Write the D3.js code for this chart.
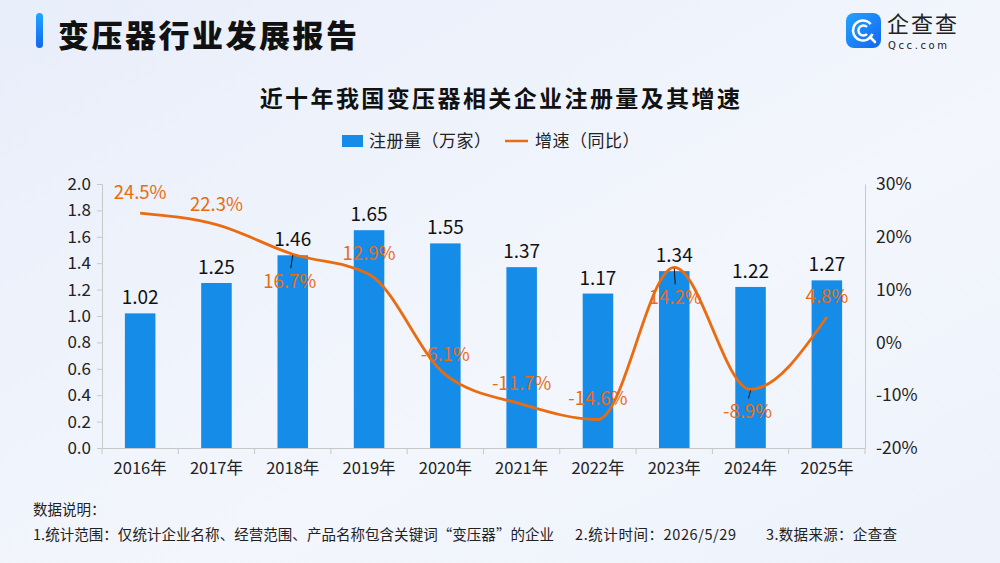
<!DOCTYPE html>
<html><head><meta charset="utf-8">
<script src="https://cdn.jsdelivr.net/npm/d3@7/dist/d3.min.js"></script>
<style>
html,body{margin:0;padding:0;}
body{width:1000px;height:563px;overflow:hidden;font-family:"Noto Sans CJK SC","Noto Sans",sans-serif;}
</style></head>
<body><svg id="c" width="1000" height="563"></svg>
<script>
const years = ["2016年","2017年","2018年","2019年","2020年","2021年","2022年","2023年","2024年","2025年"];
const registrations = [1.02,1.25,1.46,1.65,1.55,1.37,1.17,1.34,1.22,1.27];
const growth = [24.5,22.3,16.7,12.9,-6.1,-11.7,-14.6,14.2,-8.9,4.8];
const leftTicks = [0,0.2,0.4,0.6,0.8,1.0,1.2,1.4,1.6,1.8,2.0];
const rightTicks = [-20,-10,0,10,20,30];
// label placement for growth labels (layout config)
const growthLabelSide = ["top","top","bottom","top","top","top","top","bottom","bottom","top"];

const svg = d3.select("#c");
const W=1000,H=563;
const defs = svg.append("defs");
const bg = defs.append("linearGradient").attr("id","bg").attr("x1","0").attr("y1","0").attr("x2","1").attr("y2","1");
bg.append("stop").attr("offset","0").attr("stop-color","#e8eefa");
bg.append("stop").attr("offset","0.6").attr("stop-color","#f3f6fc");
bg.append("stop").attr("offset","1").attr("stop-color","#edf2fb");
svg.append("rect").attr("width",W).attr("height",H).attr("fill","url(#bg)");
const bar = defs.append("linearGradient").attr("id","tb").attr("x1","0").attr("y1","0").attr("x2","0").attr("y2","1");
bar.append("stop").attr("offset","0").attr("stop-color","#1ea7ff");
bar.append("stop").attr("offset","1").attr("stop-color","#1466f0");
const lg = defs.append("linearGradient").attr("id","lg").attr("x1","0").attr("y1","0").attr("x2","1").attr("y2","1");
lg.append("stop").attr("offset","0").attr("stop-color","#23a3ff");
lg.append("stop").attr("offset","1").attr("stop-color","#1366ef");

// header
svg.append("rect").attr("x",36).attr("y",13).attr("width",7).attr("height",35).attr("rx",3.5).attr("fill","url(#tb)");
svg.append("text").attr("x",58).attr("y",47).attr("font-size",31).attr("font-weight",900).attr("letter-spacing",2.5).attr("fill","#111").text("变压器行业发展报告");

// logo
const logo = svg.append("g").attr("transform","translate(846,13)");
logo.append("rect").attr("width",35).attr("height",35).attr("rx",8).attr("fill","url(#lg)");
logo.append("circle").attr("cx",17).attr("cy",17.5).attr("r",10).attr("fill","none").attr("stroke","#fff").attr("stroke-width",2.6).attr("stroke-dasharray","52 11").attr("transform","rotate(20 17 17.5)");
logo.append("path").attr("d","M21,14 A5,5 0 1 0 21,21").attr("fill","none").attr("stroke","#fff").attr("stroke-width",2.4);
logo.append("line").attr("x1",24).attr("y1",24).attr("x2",29).attr("y2",29).attr("stroke","#fff").attr("stroke-width",2.6).attr("stroke-linecap","round");
svg.append("text").attr("x",887).attr("y",32).attr("font-size",22).attr("fill","#222").attr("letter-spacing",2).text("企查查");
svg.append("text").attr("x",888).attr("y",48.5).attr("font-size",10).attr("font-family","DejaVu Sans").attr("fill","#222").attr("letter-spacing",2.6).text("Qcc.com");

// chart title
svg.append("text").attr("x",501).attr("y",107).attr("text-anchor","middle").attr("font-size",23).attr("font-weight",700).attr("letter-spacing",2.4).attr("fill","#111").text("近十年我国变压器相关企业注册量及其增速");

// legend
svg.append("rect").attr("x",342).attr("y",135).attr("width",21).attr("height",12).attr("fill","#168ce9");
svg.append("text").attr("x",369).attr("y",147).attr("font-size",17).attr("letter-spacing",0.5).attr("fill","#222").text("注册量（万家）");
svg.append("line").attr("x1",505).attr("x2",528).attr("y1",141).attr("y2",141).attr("stroke","#ea6c10").attr("stroke-width",2.5);
svg.append("text").attr("x",535).attr("y",147).attr("font-size",17).attr("letter-spacing",0.5).attr("fill","#222").text("增速（同比）");

const L=102,R=865,T=184,B=448;
const x = d3.scaleBand().domain(years).range([L,R]).paddingInner(0.6).paddingOuter(0.3);
const yL = d3.scaleLinear().domain([0,2]).range([B,T]);
const yR = d3.scaleLinear().domain([-20,30]).range([B,T]);

// left axis
const gl = svg.append("g").attr("transform",`translate(${L},0)`)
  .call(d3.axisLeft(yL).tickValues(leftTicks).tickFormat(d3.format(".1f")).tickSize(5).tickPadding(6));
gl.select(".domain").attr("stroke","#c8c8c8");
gl.selectAll(".tick line").attr("stroke","#c8c8c8");
gl.selectAll("text").attr("font-size",17).attr("fill","#222").attr("font-family","Noto Sans CJK SC");

// right axis
const gr = svg.append("g").attr("transform",`translate(${R},0)`)
  .call(d3.axisRight(yR).tickValues(rightTicks).tickFormat(d=>d+"%").tickSize(0).tickPadding(11));
gr.select(".domain").attr("stroke","#c8c8c8");
gr.selectAll("text").attr("font-size",17.5).attr("fill","#222").attr("font-family","Noto Sans CJK SC");

// x axis
const gx = svg.append("g").attr("transform",`translate(0,${B})`)
  .call(d3.axisBottom(x).tickSize(0).tickPadding(14));
gx.select(".domain").attr("stroke","#c8c8c8");
gx.selectAll("text").attr("font-size",16.5).attr("fill","#222").attr("font-family","Noto Sans CJK SC");
// boundary ticks
const step = x.step();
gx.selectAll(".btick").data(d3.range(years.length+1)).enter().append("line")
  .attr("x1",i=>L+i*step).attr("x2",i=>L+i*step).attr("y1",0).attr("y2",6).attr("stroke","#c8c8c8");

// bars
svg.append("g").selectAll("rect").data(registrations).enter().append("rect")
  .attr("x",(d,i)=>x(years[i])).attr("width",x.bandwidth())
  .attr("y",d=>yL(d)).attr("height",d=>B-yL(d)).attr("fill","#168ce9");

// line
const cx = i=>x(years[i])+x.bandwidth()/2;
const line = d3.line().x((d,i)=>cx(i)).y(d=>yR(d)).curve(d3.curveMonotoneX);
svg.append("path").attr("d",line(growth)).attr("fill","none").attr("stroke","#ea6c10").attr("stroke-width",2.8);

// bar labels
svg.append("g").selectAll("text").data(registrations).enter().append("text")
  .attr("x",(d,i)=>cx(i)).attr("y",d=>yL(d)-9).attr("text-anchor","middle")
  .attr("font-size",19).attr("fill","#111").text(d=>d.toFixed(2));

// growth labels
const belowOffset = {2:34, 7:37, 8:29};
const gg = svg.append("g");
growth.forEach((d,i)=>{
  const px=cx(i), py=yR(d);
  if(growthLabelSide[i]==="top"){
    gg.append("text").attr("x",px).attr("y",py-14).attr("text-anchor","middle")
      .attr("font-size",18.5).attr("fill","#ea6c10").text(d.toFixed(1)+"%");
  } else {
    const off = belowOffset[i];
    gg.append("text").attr("x",px-3+ (i===7?4:0)).attr("y",py+off).attr("text-anchor","middle")
      .attr("font-size",18.5).attr("fill","#ea6c10").text(d.toFixed(1)+"%");
    gg.append("line").attr("x1",px).attr("y1",py+1).attr("x2",px-2+(i===7?3:0)).attr("y2",py+off-20)
      .attr("stroke","#111").attr("stroke-width",1);
  }
});

// footnotes
svg.append("text").attr("x",33).attr("y",515).attr("font-size",14.5).attr("fill","#222").text("数据说明：");
const fy=540;
svg.append("text").attr("x",33).attr("y",fy).attr("font-size",14.5).attr("fill","#222").attr("textLength",521).text("1.统计范围：仅统计企业名称、经营范围、产品名称包含关键词“变压器”的企业");
svg.append("text").attr("x",575).attr("y",fy).attr("font-size",14.5).attr("fill","#222").attr("textLength",161).text("2.统计时间：2026/5/29");
svg.append("text").attr("x",766).attr("y",fy).attr("font-size",14.5).attr("fill","#222").attr("textLength",131).text("3.数据来源：企查查");
</script></body></html>
